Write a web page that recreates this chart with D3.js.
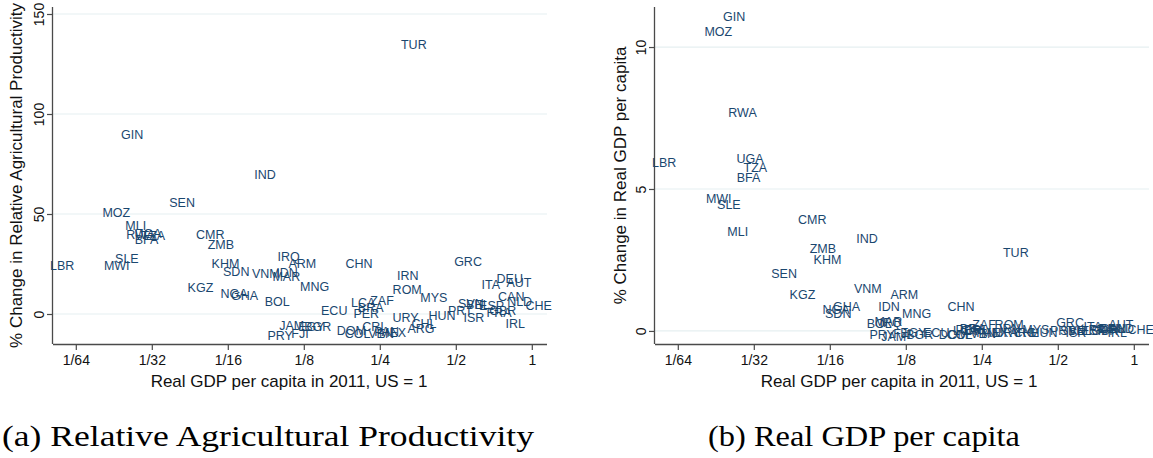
<!DOCTYPE html>
<html>
<head>
<meta charset="utf-8">
<script src="https://cdn.jsdelivr.net/npm/d3@7"></script>
<style>
  html, body { margin: 0; padding: 0; background: #fff; }
  svg { display: block; }
</style>
</head>
<body>
<svg id="chart" width="1153" height="458"></svg>
<script>
// Country codes, GDP per capita relative to the US (2011), and the two outcome series
const countries = ["LBR","MWI","MOZ","SLE","GIN","MLI","RWA","BFA","UGA","TZA",
  "SEN","KGZ","CMR","ZMB","KHM","NGA","SDN","GHA","VNM","IND",
  "BOL","PRY","IDN","MAR","IRQ","JAM","FJI","ARM","EGY","BGR",
  "MNG","ECU","LCA","DOM","COL","CHN","PER","BRA","CRI","ZAF",
  "VEN","PAN","MEX","URY","IRN","ROM","TUR","ARG","CHL","MYS",
  "HUN","PRT","GRC","SVN","ISR","BEL","ITA","ESP","FRA","GBR",
  "DEU","CAN","IRL","AUT","NLD","CHE"];

const gdpRelative = [0.0138,0.0227,0.0226,0.0249,0.0261,0.0270,0.0282,0.0298,0.0302,0.0317,
  0.0412,0.0487,0.0533,0.0587,0.0612,0.0661,0.0675,0.0728,0.0884,0.0878,
  0.0981,0.1008,0.1073,0.1066,0.1088,0.1119,0.1207,0.1233,0.1340,0.1420,
  0.1380,0.1650,0.2150,0.1930,0.2040,0.2070,0.2210,0.2300,0.2350,0.2550,
  0.2530,0.2660,0.2810,0.3160,0.3230,0.3210,0.3410,0.3640,0.3740,0.4090,
  0.4410,0.5210,0.5590,0.5740,0.5900,0.6110,0.6880,0.6930,0.7420,0.7680,
  0.8180,0.8290,0.8590,0.8890,0.8950,1.0640];

// % change in relative agricultural productivity
const agriProdChange = [24.5,24.5,51,28,90,44.5,40,37.5,40.5,39.5,
  56,13.5,40,35,25.5,10.5,21.5,9.5,20.5,70,
  6.5,-10.5,21,19,29,-5.5,-9.5,25.5,-6,-6,
  14,2,6,-8,-9.5,25.5,0.5,3.5,-6,7,
  -9.5,-8.5,-9,-1.5,19.5,12.5,135,-7,-4.5,8.5,
  -0.5,2,26.5,5.5,-1.5,5,15,4.5,1,2,
  18,9,-4.5,16,6.5,4.5];

// % change in real GDP per capita
const gdpPcChange = [5.92,4.68,10.55,4.44,11.09,3.49,7.70,5.42,6.06,5.77,
  2.04,1.30,3.94,2.89,2.50,0.77,0.63,0.85,1.48,3.24,
  0.25,-0.14,0.85,0.35,0.28,-0.21,-0.10,1.30,-0.07,-0.14,
  0.63,-0.04,0.00,-0.14,-0.14,0.85,0.05,0.10,0.00,0.21,
  -0.10,-0.05,-0.07,-0.05,0.10,0.21,2.75,-0.05,-0.07,0.04,
  -0.07,0.00,0.28,0.00,-0.07,0.02,0.14,0.00,0.05,0.00,
  0.10,0.07,-0.07,0.21,0.10,0.05];

const xTickValues = [1/64, 1/32, 1/16, 1/8, 1/4, 1/2, 1];
const xTickLabels = ["1/64", "1/32", "1/16", "1/8", "1/4", "1/2", "1"];
const agriTicks = [0, 50, 100, 150];
const gdpTicks = [0, 5, 10];

const xTitle = "Real GDP per capita in 2011, US = 1";
const panels = [
  { left: 53, yTitle: "% Change in Relative Agricultural Productivity", values: agriProdChange,
    yDomain: [-15, 153.5], ticks: agriTicks, caption: "(a) Relative Agricultural Productivity",
    capX: 2, capLen: 532, titleX: 289, yTitleX: 16 },
  { left: 655, yTitle: "% Change in Real GDP per capita", values: gdpPcChange,
    yDomain: [-0.46, 11.41], ticks: gdpTicks, caption: "(b) Real GDP per capita",
    capX: 708, capLen: 312, titleX: 899, yTitleX: 620 }
];

const svg = d3.select("#chart");
const labelColor = "#1a476f";
const axisColor = "#4a4a4a";
const gridColor = "#e6eff1";
const sans = "'Liberation Sans', Arial, sans-serif";

const plotTop = 7, plotBottom = 344, plotW = 494;

panels.forEach(p => {
  const x = d3.scaleLog().base(2)
    .domain([Math.pow(2, -6.3), Math.pow(2, 0.2)])
    .range([p.left, p.left + plotW]);
  const y = d3.scaleLinear().domain(p.yDomain).range([plotBottom, plotTop]);

  const g = svg.append("g");

  // horizontal gridlines
  g.append("g").selectAll("line").data(p.ticks).join("line")
    .attr("x1", p.left).attr("x2", p.left + plotW)
    .attr("y1", d => y(d)).attr("y2", d => y(d))
    .attr("stroke", gridColor).attr("stroke-width", 1.2);

  // x axis
  const xAxis = d3.axisBottom(x).tickValues(xTickValues)
    .tickFormat((d, i) => xTickLabels[i]).tickSize(6).tickSizeOuter(0);
  const gx = g.append("g").attr("transform", `translate(0,${plotBottom})`).call(xAxis);
  gx.select(".domain").attr("d", `M${p.left},0.5H${p.left + plotW}`)
    .attr("stroke", axisColor).attr("stroke-width", 1.3);
  gx.selectAll(".tick line").attr("stroke", axisColor).attr("stroke-width", 1.2);
  gx.selectAll(".tick text").attr("y", 11).attr("fill", "#111")
    .style("font", `14px ${sans}`);

  // y axis with vertical tick labels
  const yAxis = d3.axisLeft(y).tickValues(p.ticks).tickSize(6).tickSizeOuter(0);
  const gy = g.append("g").attr("transform", `translate(${p.left},0)`).call(yAxis);
  gy.select(".domain").attr("d", `M-0.5,${plotTop}V${plotBottom}`)
    .attr("stroke", axisColor).attr("stroke-width", 1.3);
  gy.selectAll(".tick line").attr("stroke", axisColor).attr("stroke-width", 1.2);
  gy.selectAll(".tick text")
    .attr("transform", "rotate(-90)")
    .attr("x", 0).attr("y", -9).attr("dy", 0)
    .attr("text-anchor", "middle").attr("fill", "#111")
    .style("font", `14px ${sans}`);

  // axis titles
  g.append("text")
    .attr("x", p.titleX).attr("y", 387)
    .attr("text-anchor", "middle").attr("fill", "#111")
    .style("font", `17px ${sans}`).text(xTitle);
  g.append("text")
    .attr("transform", `translate(${p.yTitleX + 6},${(plotTop + plotBottom) / 2}) rotate(-90)`)
    .attr("text-anchor", "middle").attr("fill", "#111")
    .style("font", `17px ${sans}`).text(p.yTitle);

  // country labels centred on each observation
  g.append("g").selectAll("text").data(countries).join("text")
    .attr("x", (d, i) => x(gdpRelative[i]))
    .attr("y", (d, i) => y(p.values[i]))
    .attr("dy", "0.36em")
    .attr("text-anchor", "middle")
    .attr("fill", labelColor)
    .style("font", `12.5px ${sans}`)
    .text(d => d);

  // panel caption
  svg.append("text")
    .attr("x", p.capX).attr("y", 446)
    .attr("textLength", p.capLen).attr("lengthAdjust", "spacingAndGlyphs")
    .attr("fill", "#000")
    .style("font", "29px 'Liberation Serif', 'Times New Roman', serif")
    .text(p.caption);
});
</script>
</body>
</html>
